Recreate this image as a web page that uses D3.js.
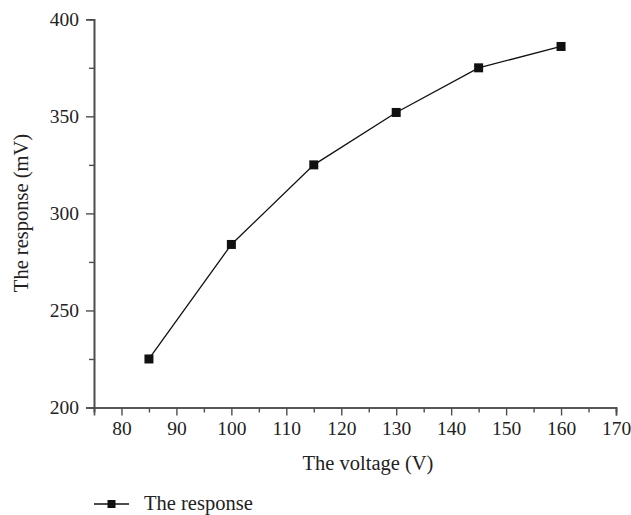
<!DOCTYPE html>
<html>
<head>
<meta charset="utf-8">
<script src="https://cdn.jsdelivr.net/npm/d3@7"></script>
<style>
  html, body { margin: 0; padding: 0; background: #fff; }
  svg { display: block; font-family: "Liberation Serif", "DejaVu Serif", serif; }
</style>
</head>
<body>
<svg id="chart" width="631" height="515"></svg>
<script>
// Measured response versus applied voltage
const voltage = [85, 100, 115, 130, 145, 160];
const response = [225, 284, 325, 352, 375, 386];
const xTicks = [80, 90, 100, 110, 120, 130, 140, 150, 160, 170];
const yTicks = [200, 250, 300, 350, 400];
const seriesName = "The response";

const svg = d3.select("#chart");
const axisColor = "#4d4d4d";
const textColor = "#222";

const x = d3.scaleLinear().domain([75, 170]).range([94, 616]);
const y = d3.scaleLinear().domain([200, 400]).range([407.5, 19.3]);

// Minor ticks between the labelled ones
const xMinor = d3.range(75, 171, 5).filter(v => !xTicks.includes(v));
const yMinor = d3.range(200, 401, 25).filter(v => !yTicks.includes(v));

function styleAxis(g) {
  g.select(".domain").attr("stroke", axisColor).attr("stroke-width", 1.6);
  g.selectAll(".tick line").attr("stroke", axisColor).attr("stroke-width", 1.4);
  g.selectAll(".tick text").attr("fill", textColor).attr("font-size", 19.5)
    .attr("font-family", "Liberation Serif, DejaVu Serif, serif");
}

// x axis
const xAxisY = y(200);
const gxMinor = svg.append("g").attr("transform", `translate(0,${xAxisY})`)
  .call(d3.axisBottom(x).tickValues(xMinor).tickSize(5).tickFormat(""));
styleAxis(gxMinor);
const gx = svg.append("g").attr("transform", `translate(0,${xAxisY})`)
  .call(d3.axisBottom(x).tickValues(xTicks).tickSize(8).tickPadding(6).tickFormat(d3.format("d")));
styleAxis(gx);

// y axis
const yAxisX = x(75);
const gyMinor = svg.append("g").attr("transform", `translate(${yAxisX},0)`)
  .call(d3.axisLeft(y).tickValues(yMinor).tickSize(5).tickFormat(""));
styleAxis(gyMinor);
const gy = svg.append("g").attr("transform", `translate(${yAxisX},0)`)
  .call(d3.axisLeft(y).tickValues(yTicks).tickSize(8).tickPadding(7).tickFormat(d3.format("d")));
styleAxis(gy);

// Axis titles
svg.append("text")
  .attr("x", 368)
  .attr("y", 470)
  .attr("text-anchor", "middle")
  .attr("font-size", 20.5)
  .attr("fill", textColor)
  .text("The voltage (V)");

svg.append("text")
  .attr("transform", `translate(28,213) rotate(-90)`)
  .attr("text-anchor", "middle")
  .attr("font-size", 20.5)
  .attr("fill", textColor)
  .text("The response (mV)");

// Line and markers
const data = voltage.map((v, i) => ({ v, r: response[i] }));
const line = d3.line().x(d => x(d.v)).y(d => y(d.r));

svg.append("path")
  .datum(data)
  .attr("d", line)
  .attr("fill", "none")
  .attr("stroke", "#111")
  .attr("stroke-width", 1.3);

const ms = 9;
svg.selectAll("rect.marker")
  .data(data)
  .join("rect")
  .attr("class", "marker")
  .attr("x", d => x(d.v) - ms / 2)
  .attr("y", d => y(d.r) - ms / 2)
  .attr("width", ms)
  .attr("height", ms)
  .attr("fill", "#111");

// Legend
const legendY = 504;
const legend = svg.append("g");
legend.append("line")
  .attr("x1", 94).attr("x2", 129)
  .attr("y1", legendY).attr("y2", legendY)
  .attr("stroke", "#111").attr("stroke-width", 1.3);
legend.append("rect")
  .attr("x", 111.5 - 4).attr("y", legendY - 4)
  .attr("width", 8).attr("height", 8)
  .attr("fill", "#111");
legend.append("text")
  .attr("x", 144)
  .attr("y", legendY + 6)
  .attr("font-size", 20.5)
  .attr("fill", textColor)
  .text(seriesName);
</script>
</body>
</html>
